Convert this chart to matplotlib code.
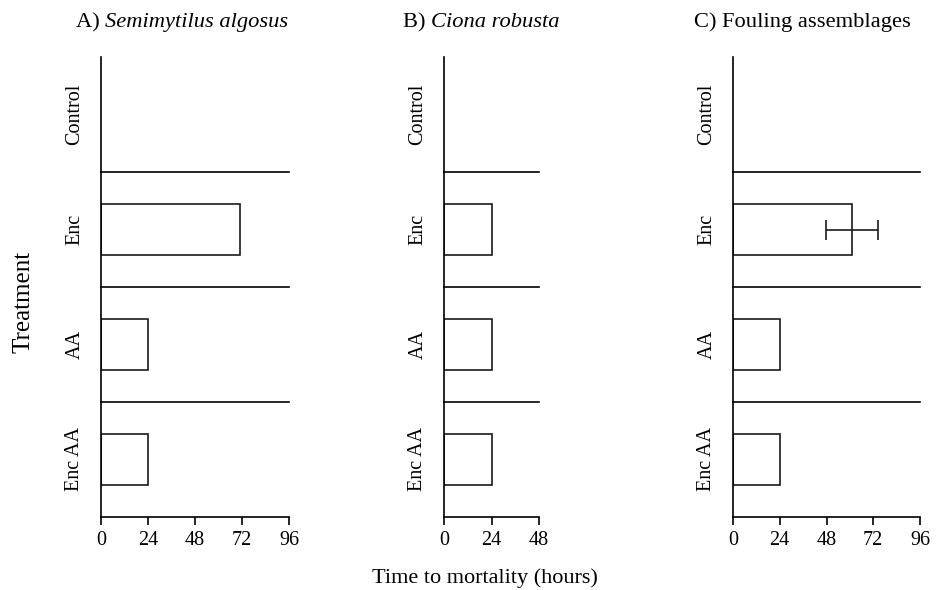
import numpy as np
import matplotlib
matplotlib.use("Agg")
import matplotlib.pyplot as plt

plt.rcParams['font.family'] = ['Liberation Serif', 'DejaVu Serif']

# data (hours to mortality); nan = no mortality bar
treatments = ['Control', 'Enc', 'AA', 'Enc AA']
semimytilus = [np.nan, 71, 24, 24]
ciona = [np.nan, 24, 24, 24]
fouling = [np.nan, 61, 24, 24]
fouling_err = [0, 13.5, 0, 0]

prefixes = ['A) ', 'B) ', 'C) ']
names = ['Semimytilus algosus', 'Ciona robusta', 'Fouling assemblages']
name_italic = [True, True, False]
xmax = [96, 48, 96]
xticks = [[0, 24, 48, 72, 96], [0, 24, 48], [0, 24, 48, 72, 96]]
series = [semimytilus, ciona, fouling]
errs = [None, None, fouling_err]

W, H = 942, 590
fig = plt.figure(figsize=(W / 100, H / 100), dpi=100)

col_left = [101, 444, 733]
col_right = [289, 539, 920]
title_cx = [182, 481, 802]
top_px, bot_px = 57, 517
row_h = (bot_px - top_px) / 4.0
lw = 1.2

for c in range(3):
    for r in range(4):
        y_top = top_px + r * row_h
        ax = fig.add_axes([col_left[c] / W, 1 - (y_top + row_h) / H,
                           (col_right[c] - col_left[c]) / W, row_h / H])
        ax.patch.set_visible(False)
        ax.set_xlim(0, xmax[c])
        ax.set_ylim(-0.5, 0.5)
        for s in ['top', 'right']:
            ax.spines[s].set_visible(False)
        for s in ['left', 'bottom']:
            ax.spines[s].set_linewidth(lw)
        ax.set_yticks([])
        v = series[c][r]
        if not np.isnan(v):
            ax.barh(0, v, height=0.44, left=0, facecolor='none',
                    edgecolor='#1a1a1a', linewidth=lw)
            if errs[c] is not None and errs[c][r] > 0:
                ax.errorbar(v, 0, xerr=errs[c][r], fmt='none', ecolor='#1a1a1a',
                            elinewidth=lw, capsize=7, capthick=lw)
        ax.set_ylabel(treatments[r], fontsize=14.5, rotation=90, labelpad=12)
        if r < 3:
            ax.set_xticks([])
        else:
            ax.set_xticks(xticks[c])
            ax.tick_params(axis='x', direction='out', length=6, width=lw,
                           labelsize=14.5, pad=4)

    # title: prefix regular + name (italic for species)
    t1 = fig.text(0, 0, prefixes[c], fontsize=16.2, ha='left', va='baseline')
    t2 = fig.text(0, 0, names[c], fontsize=16.2, ha='left', va='baseline',
                  style='italic' if name_italic[c] else 'normal')
    fig.canvas.draw()
    rend = fig.canvas.get_renderer()
    w1 = t1.get_window_extent(rend).width
    w2 = t2.get_window_extent(rend).width
    x_start = title_cx[c] - (w1 + w2) / 2.0
    base = H - 27
    t1.set_position((x_start / W, base / H))
    t2.set_position(((x_start + w1) / W, base / H))

fig.text(24 / W, 1 - 302 / H, 'Treatment', fontsize=18, rotation=90,
         ha='center', va='center')
fig.text(485 / W, 1 - 578 / H, 'Time to mortality (hours)', fontsize=16,
         ha='center', va='center')

fig.savefig('out.png', dpi=100)
